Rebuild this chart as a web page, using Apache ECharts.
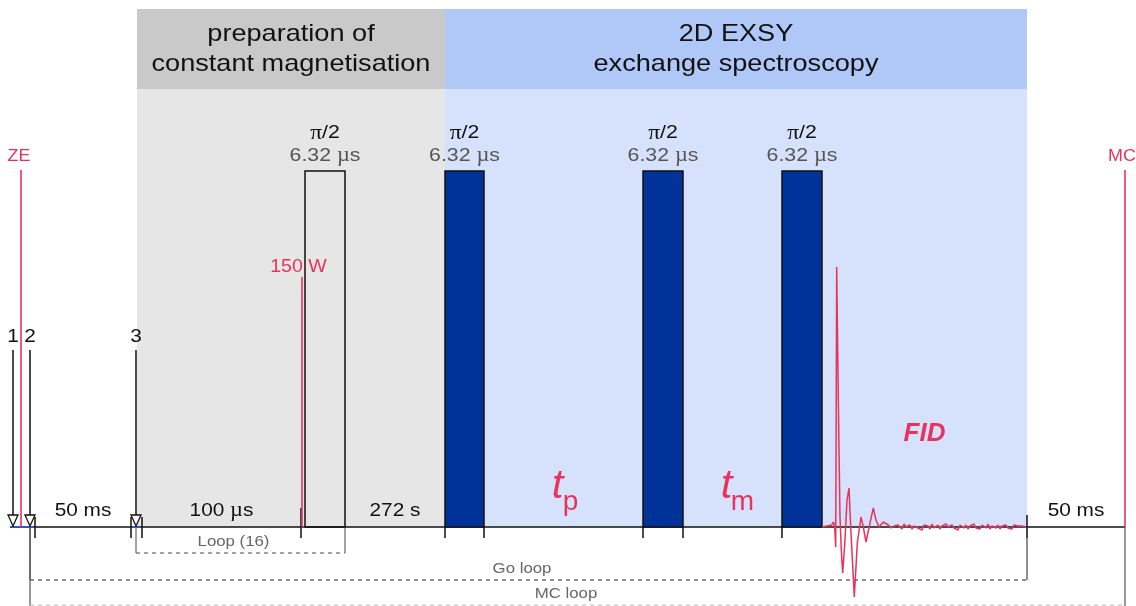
<!DOCTYPE html>
<html>
<head>
<meta charset="utf-8">
<script src="https://cdn.jsdelivr.net/npm/echarts@6/dist/echarts.min.js"></script>
<style>
  html, body { margin: 0; padding: 0; background: #ffffff; }
  #chart { width: 1136px; height: 606px; }
</style>
</head>
<body>
<div id="chart"></div>
<script>
// ---- Sequence description: time runs along x, amplitude above the baseline along y ----
const phaseTitles = ['preparation of\nconstant magnetisation', '2D EXSY\nexchange spectroscopy'];
const phaseStart = [137, 445];
const phaseEnd = [445, 1027];
const headerTop = 518;
const headerBottom = 438;

const pulseNames = ['π/2', 'π/2', 'π/2', 'π/2'];
const pulseLengths = ['6.32 µs', '6.32 µs', '6.32 µs', '6.32 µs'];
const pulseStart = [305, 445, 643, 782];
const pulseEnd = [345, 484, 683, 822];
const pulseAmp = [356, 356, 356, 356];
const pulseFilled = [false, true, true, true];

const delayNames = ['50 ms', '100 µs', '272 s', '50 ms'];
const delayStart = [35, 142, 345, 1027];
const delayEnd = [131, 301, 445, 1125];

const evolutionSymbol = ['t', 't'];
const evolutionIndex = ['p', 'm'];
const evolutionStart = [484, 683];
const evolutionEnd = [643, 782];

const triggerNames = ['1', '2', '3'];
const triggerX = [13, 30, 136];
const triggerAmp = [177, 177, 177];

const markerNames = ['ZE', '150 W', 'MC'];
const markerX = [21, 302, 1125];
const markerAmp = [357, 250, 357];

const loopNames = ['Loop (16)', 'Go loop', 'MC loop'];
const loopStart = [136, 30, 30];
const loopEnd = [345, 1027, 1125];
const loopDepth = [-26, -53, -78];

const tickX = [35, 131, 142, 301, 445, 484, 643, 683, 782, 1027];
const tickTop = [10, 10, 10, 19, 0, 0, 0, 0, 0, 12];

const baselineStart = 10;
const baselineEnd = 1125;
const blankingStart = [10, 131, 301];
const blankingEnd = [35, 142, 305];

const fidName = 'FID';
const fidTime = [822, 831.7, 833.3, 834.7, 835.7, 836.7, 837.7, 839, 840, 841.3, 842.7, 845, 847, 849, 851,
  854.3, 857.3, 861, 863.3, 866, 870, 873.3, 876, 879, 883.3, 888.3, 891,
  894, 896, 898, 900, 902, 904, 906, 908, 910, 912, 914, 916, 918, 920, 922, 924, 926, 928, 930,
  932, 934, 936, 938, 940, 942, 944, 946, 948, 950, 952, 954, 956, 958, 960, 962, 964, 966, 968,
  970, 972, 974, 976, 978, 980, 982, 984, 986, 988, 990, 992, 994, 996, 998, 1000, 1002, 1004,
  1006, 1008, 1010, 1012, 1014, 1016, 1018, 1020, 1022, 1024, 1026];
const fidAmp = [0, 2, 5, 0, -20, 260, 177, 77, 10, -23, -46, -13, 27, 39, -6,
  -70, -16, 10, 0, -15, 4, 19, 7, 0, 5, 2, -1,
  1, -1, 2, 0, -2, 3, 0, -1, 2, -2, 1, 3, -1, 1, -3, 2, 0, 1, -2,
  3, -1, 0, 2, -2, 1, -1, 3, 0, -2, 2, -1, 1, -3, 2, 0, -1, 2, -2,
  1, 0, 3, -1, 1, -2, 2, 0, -1, 3, -2, 1, 0, -1, 2, -2, 1, 0,
  2, -1, 1, -2, 2, 0, 1, -1, 1, -1, 0];

// ---- Styling ----
const RED = '#e8335d';
const NAVY = '#003399';
const SANS = '"Liberation Sans", Arial, sans-serif';
const SERIF = '"Liberation Serif", "Times New Roman", serif';
const WIDEN = 1.12;

function font(size, extra) {
  return (extra ? extra + ' ' : '') + size + 'px ' + SANS;
}

function rectEl(api, x0, x1, top, bottom, style) {
  const a = api.coord([x0, top]);
  const b = api.coord([x1, bottom]);
  return { type: 'rect', shape: { x: a[0], y: a[1], width: b[0] - a[0], height: b[1] - a[1] }, style: style };
}

function lineEl(api, x0, y0, x1, y1, style) {
  const a = api.coord([x0, y0]);
  const b = api.coord([x1, y1]);
  return { type: 'line', shape: { x1: a[0], y1: a[1], x2: b[0], y2: b[1] }, style: style };
}

function textEl(api, x, amp, text, o) {
  const p = api.coord([x, amp]);
  const align = o.align || 'center';
  return {
    type: 'text', x: p[0], y: p[1], scaleX: o.sx || WIDEN, scaleY: 1,
    style: Object.assign({
      text: text, x: 0, y: 0, fill: o.fill || '#111', font: o.font,
      align: align, verticalAlign: 'middle', textAlign: align, textVerticalAlign: 'middle'
    }, o.extra || {})
  };
}

const stroke = (c, w, dash) => ({ stroke: c, lineWidth: w, fill: null, lineDash: dash || null });

const chart = echarts.init(document.getElementById('chart'), null, { renderer: 'canvas' });

const option = {
  animation: false,
  backgroundColor: '#ffffff',
  grid: { left: 0, right: 0, top: 0, bottom: 0, containLabel: false },
  xAxis: { type: 'value', min: 0, max: 1136, show: false },
  yAxis: { type: 'value', min: -79, max: 527, show: false },
  series: [
    // Phase shading and headers
    {
      type: 'custom', silent: true, clip: false, z: 1,
      data: phaseStart.map((s, i) => [s, phaseEnd[i], i]),
      renderItem: function (params, api) {
        const i = api.value(2);
        const headFill = i === 0 ? '#c9c9c9' : '#afc8f8';
        const bodyFill = i === 0 ? '#e6e6e6' : '#d6e2fb';
        const x0 = api.value(0), x1 = api.value(1);
        return {
          type: 'group', children: [
            rectEl(api, x0, x1, headerTop, headerBottom, { fill: headFill }),
            rectEl(api, x0, x1, headerBottom, 0, { fill: bodyFill }),
            textEl(api, (x0 + x1) / 2, (headerTop + headerBottom) / 2 - 0.5, phaseTitles[i],
              { font: font(24), sx: 1.13, fill: '#111', extra: { lineHeight: 30 } })
          ]
        };
      }
    },
    // Baseline, ticks, loops, triggers and markers
    {
      type: 'custom', silent: true, clip: false, z: 3,
      data: [[0]],
      renderItem: function (params, api) {
        const ch = [];
        ch.push(lineEl(api, baselineStart, 0, baselineEnd, 0, stroke('#111', 1.5)));
        blankingStart.forEach((s, i) => ch.push(lineEl(api, s, 0, blankingEnd[i], 0, stroke('#2a5bd7', 1.5))));
        tickX.forEach((x, i) => ch.push(lineEl(api, x, tickTop[i], x, -11, stroke('#111', 1.5))));
        // loops
        const loopCol = ['#666666', '#444444', '#c4c4c4'];
        const loopEdge = ['#666666', '#444444', '#555555'];
        loopStart.forEach((s, i) => {
          const e = loopEnd[i], d = loopDepth[i];
          ch.push(lineEl(api, s, 0, s, i === 2 ? -79 : d, stroke(loopEdge[i], 1.2)));
          ch.push(lineEl(api, e, 0, e, i === 2 ? -79 : d, stroke(loopEdge[i], 1.2)));
          ch.push(lineEl(api, s, d, e, d, stroke(loopCol[i], 1.2, [4, 4])));
        });
        // trigger arrows
        triggerX.forEach((x, i) => {
          ch.push(lineEl(api, x, triggerAmp[i], x, 12, stroke('#111', 1.5)));
          const a = api.coord([x - 5, 12]), b = api.coord([x + 5, 12]), c = api.coord([x, 1]);
          ch.push({ type: 'polygon', shape: { points: [a, b, c] }, style: { fill: '#ffffff', stroke: '#111', lineWidth: 1.3 } });
        });
        // markers
        markerX.forEach((x, i) => ch.push(lineEl(api, x, markerAmp[i], x, 0, stroke(RED, 1.6))));
        return { type: 'group', children: ch };
      }
    },
    // RF pulses
    {
      type: 'custom', silent: true, clip: false, z: 4,
      data: pulseStart.map((s, i) => [s, pulseEnd[i], pulseAmp[i], i]),
      renderItem: function (params, api) {
        const i = api.value(3);
        const x0 = api.value(0), x1 = api.value(1), h = api.value(2);
        return {
          type: 'group', children: [
            rectEl(api, x0, x1, h, 0, { fill: pulseFilled[i] ? NAVY : 'rgba(0,0,0,0)', stroke: '#111', lineWidth: 1.5 })
          ]
        };
      }
    },
    // FID trace
    {
      type: 'line', silent: true, z: 5,
      data: fidTime.map((t, i) => [t, fidAmp[i]]),
      showSymbol: false, symbol: 'none', smooth: false,
      lineStyle: { color: RED, width: 1.5 }
    },
    // Text annotations
    {
      type: 'custom', silent: true, clip: false, z: 6,
      data: [[0]],
      renderItem: function (params, api) {
        const ch = [];
        pulseStart.forEach((s, i) => {
          const cx = (s + pulseEnd[i]) / 2;
          ch.push(textEl(api, cx, pulseAmp[i] + 38, pulseNames[i].replace('π', '{g|π}'),
            { font: font(19), fill: '#111', extra: { rich: { g: { font: '21px ' + SERIF, fill: '#111' } } } }));
          ch.push(textEl(api, cx, pulseAmp[i] + 15, pulseLengths[i].replace('µ', '{m|µ}'),
            { font: font(19), fill: '#555', extra: { rich: { m: { font: '20px ' + SERIF, fill: '#555' } } } }));
        });
        delayNames.forEach((n, i) => {
          ch.push(textEl(api, (delayStart[i] + delayEnd[i]) / 2, 16, n.replace('µ', '{m|µ}'),
            { font: font(18.6), fill: '#111', extra: { rich: { m: { font: '20px ' + SERIF, fill: '#111' } } } }));
        });
        evolutionSymbol.forEach((t, i) => {
          const cx = (evolutionStart[i] + evolutionEnd[i]) / 2;
          ch.push(textEl(api, cx - 6, 40, t, { font: font(40, 'italic'), fill: RED, sx: 1.05 }));
          ch.push(textEl(api, cx + (i === 0 ? 7 : 10), 25, evolutionIndex[i], { font: font(28), fill: RED, sx: 1.0 }));
        });
        ch.push(textEl(api, (pulseEnd[3] + loopEnd[1]) / 2, 93.5, fidName, { font: font(26, 'italic bold'), fill: RED, sx: 1.0 }));
        triggerNames.forEach((n, i) => ch.push(textEl(api, triggerX[i], 190, n, { font: font(18.6), fill: '#111' })));
        const markerLabelAmp = [370.5, 260.5, 370.5];
        const markerShift = [-2, -3.5, -3];
        const markerSize = [16, 19, 16];
        markerNames.forEach((n, i) => ch.push(textEl(api, markerX[i] + markerShift[i], markerLabelAmp[i], n,
          { font: font(markerSize[i]), fill: RED, sx: i === 1 ? 1.03 : 1.12 })));
        const loopLabelX = [233.5, 522, 566];
        loopNames.forEach((n, i) => ch.push(textEl(api, loopLabelX[i], loopDepth[i] + 11, n,
          { font: font(15), fill: '#666' })));
        return { type: 'group', children: ch };
      }
    }
  ]
};

chart.setOption(option);
</script>
</body>
</html>
